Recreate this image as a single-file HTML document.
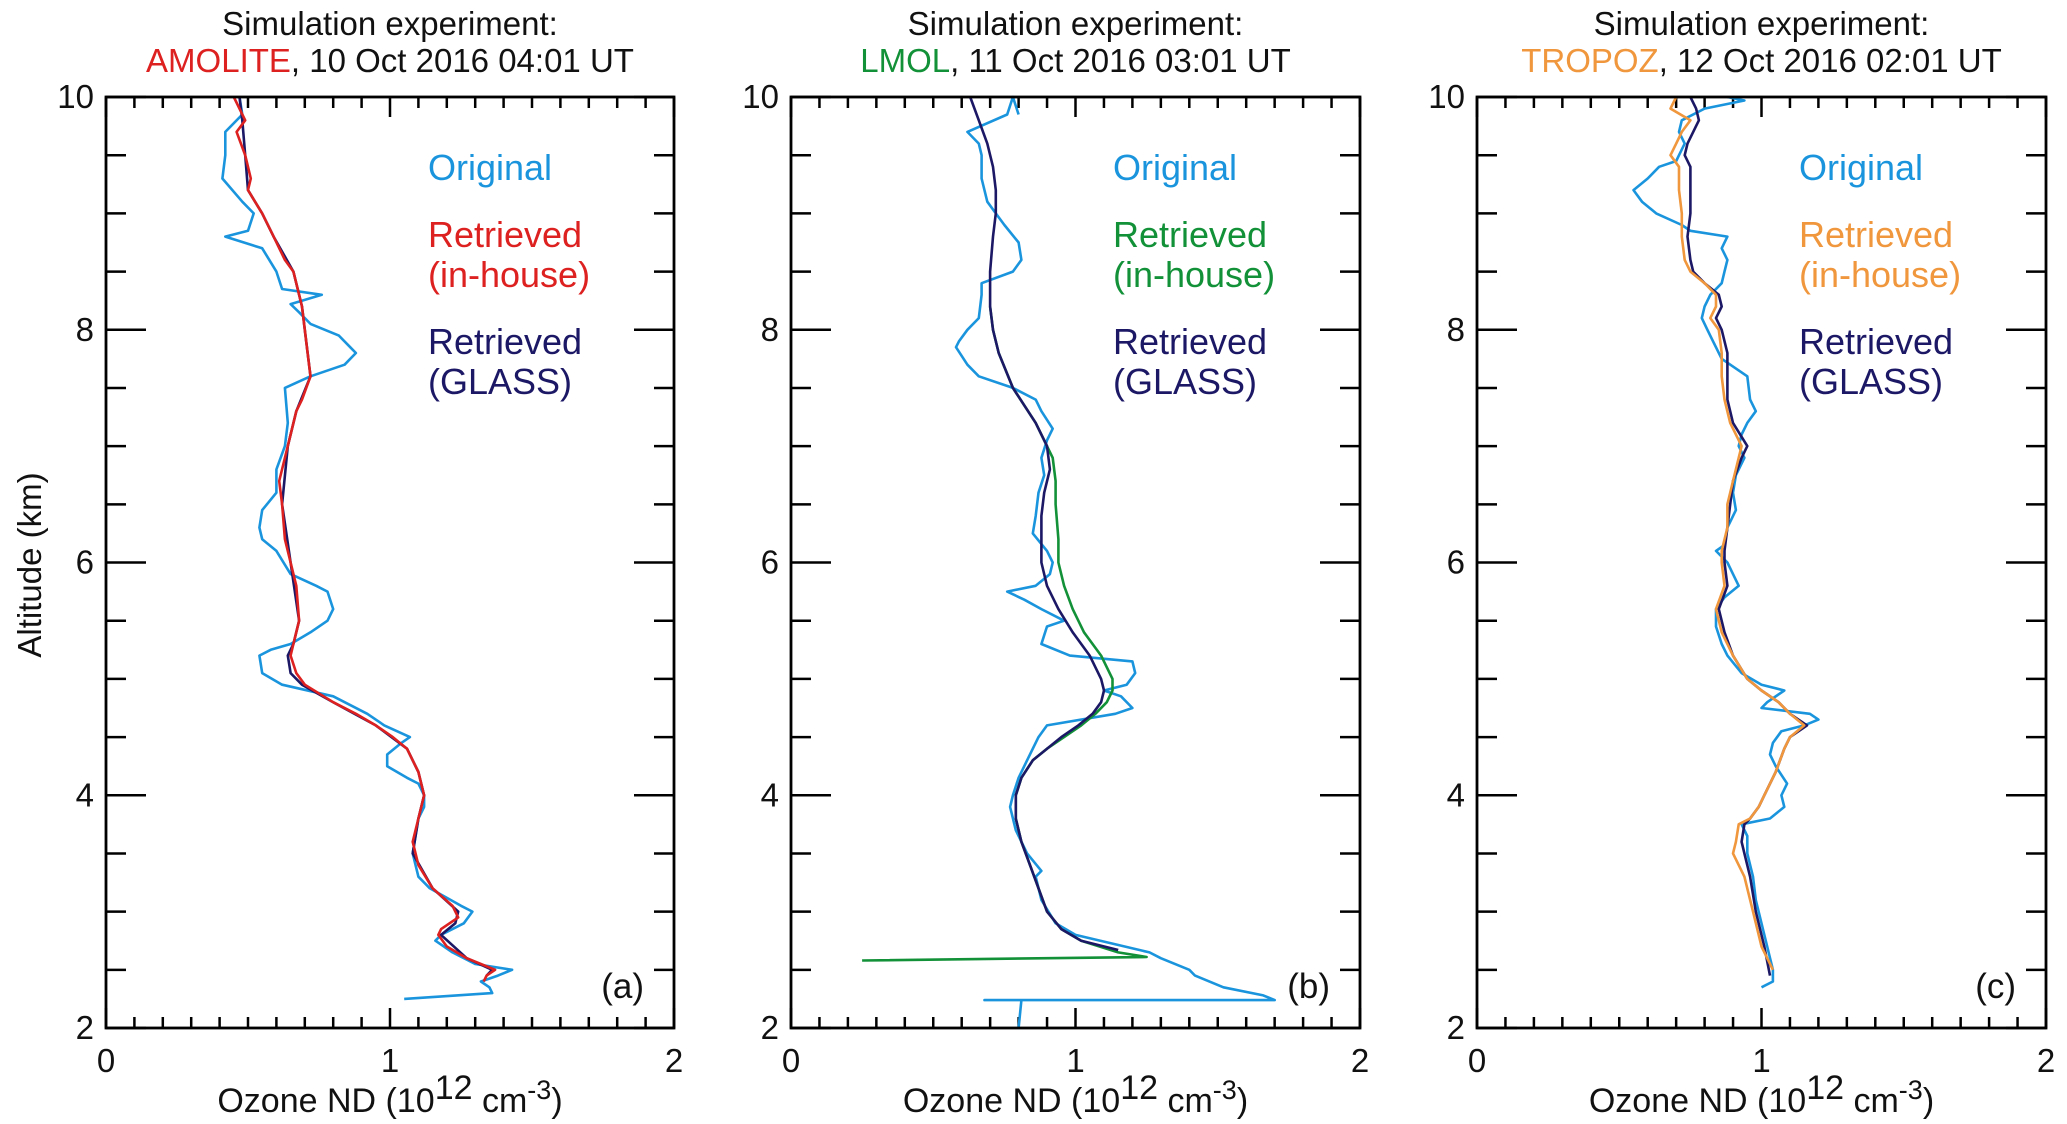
<!DOCTYPE html>
<html><head><meta charset="utf-8"><style>
html,body{margin:0;padding:0;background:#fff;}
svg{display:block;font-family:"Liberation Sans",sans-serif;}
</style></head><body>
<svg id="chart" width="2067" height="1124" viewBox="0 0 2067 1124" xmlns="http://www.w3.org/2000/svg"></svg>
<script>
// ---- data (altitude km, ozone 1e12 cm^-3) ----
const xTicks = [0, 1, 2];
const yTicks = [2, 4, 6, 8, 10];
const panelLetters = ["(a)", "(b)", "(c)"];
const instruments = ["AMOLITE", "LMOL", "TROPOZ"];
const dates = [", 10 Oct 2016 04:01 UT", ", 11 Oct 2016 03:01 UT", ", 12 Oct 2016 02:01 UT"];

const aOrigAlt = [10,9.85,9.7,9.5,9.3,9.1,9.0,8.85,8.8,8.7,8.5,8.35,8.3,8.22,8.15,8.05,7.95,7.85,7.8,7.7,7.6,7.5,7.2,7.0,6.8,6.6,6.45,6.3,6.2,6.1,5.9,5.8,5.75,5.6,5.5,5.4,5.3,5.25,5.2,5.05,4.95,4.85,4.7,4.6,4.5,4.45,4.35,4.25,4.15,4.1,4.0,3.9,3.8,3.5,3.3,3.2,3.05,3.0,2.9,2.8,2.75,2.65,2.55,2.5,2.45,2.4,2.35,2.3,2.25];
const aOrigVal = [0.47,0.48,0.42,0.42,0.41,0.48,0.52,0.5,0.42,0.55,0.6,0.62,0.76,0.65,0.68,0.72,0.82,0.86,0.88,0.84,0.72,0.63,0.64,0.63,0.6,0.6,0.55,0.54,0.55,0.6,0.65,0.74,0.78,0.8,0.78,0.72,0.65,0.58,0.54,0.55,0.62,0.8,0.92,0.98,1.07,1.04,0.99,0.99,1.06,1.1,1.12,1.12,1.1,1.08,1.1,1.14,1.25,1.29,1.26,1.18,1.16,1.22,1.3,1.43,1.38,1.32,1.35,1.36,1.05];
const aRetAlt = [10,9.8,9.7,9.5,9.3,9.2,9.0,8.8,8.6,8.5,8.2,8.0,7.8,7.6,7.4,7.3,7.0,6.7,6.5,6.2,6.0,5.8,5.5,5.3,5.2,5.05,4.95,4.8,4.7,4.6,4.5,4.4,4.2,4.0,3.8,3.6,3.4,3.2,3.05,2.95,2.85,2.8,2.7,2.6,2.55,2.5,2.45,2.4];
const aRetVal = [0.45,0.49,0.46,0.49,0.51,0.5,0.55,0.59,0.63,0.66,0.69,0.7,0.71,0.72,0.69,0.67,0.64,0.61,0.62,0.63,0.65,0.67,0.68,0.66,0.65,0.67,0.7,0.8,0.88,0.95,1.01,1.06,1.1,1.12,1.1,1.08,1.1,1.15,1.22,1.24,1.18,1.17,1.2,1.27,1.32,1.37,1.34,1.33];
const aGlsAlt = [10,9.8,9.5,9.2,9.0,8.8,8.5,8.2,8.0,7.6,7.3,7.0,6.5,6.0,5.5,5.3,5.2,5.05,4.95,4.8,4.6,4.4,4.2,4.0,3.8,3.5,3.2,3.0,2.9,2.8,2.6,2.5,2.45];
const aGlsVal = [0.47,0.48,0.49,0.5,0.55,0.59,0.66,0.69,0.7,0.72,0.67,0.64,0.62,0.65,0.68,0.66,0.64,0.65,0.69,0.8,0.95,1.06,1.1,1.12,1.1,1.08,1.15,1.24,1.23,1.18,1.27,1.36,1.34];

const bOrigAlt = [9.85,10,9.85,9.7,9.6,9.5,9.3,9.1,9.0,8.9,8.75,8.6,8.5,8.4,8.3,8.1,8.0,7.9,7.85,7.7,7.6,7.5,7.4,7.3,7.15,7.05,6.9,6.75,6.6,6.4,6.25,6.1,6.0,5.9,5.8,5.75,5.68,5.6,5.5,5.45,5.3,5.2,5.15,5.05,4.95,4.9,4.85,4.75,4.7,4.6,4.5,4.3,4.15,4.0,3.9,3.7,3.5,3.35,3.3,3.1,2.9,2.8,2.65,2.6,2.5,2.45,2.35,2.28,2.24,2.24,2.24,2.0];
const bOrigVal = [0.8,0.78,0.76,0.62,0.66,0.67,0.67,0.69,0.72,0.75,0.8,0.81,0.78,0.67,0.67,0.66,0.62,0.59,0.58,0.62,0.66,0.78,0.86,0.88,0.92,0.9,0.88,0.89,0.87,0.86,0.85,0.9,0.92,0.91,0.86,0.76,0.82,0.88,0.96,0.9,0.88,0.98,1.2,1.21,1.18,1.1,1.16,1.2,1.14,0.9,0.87,0.83,0.8,0.78,0.77,0.79,0.83,0.88,0.86,0.88,0.93,1.0,1.26,1.3,1.4,1.42,1.52,1.66,1.7,0.68,0.81,0.8];
const bRetAlt = [8.2,8.0,7.8,7.5,7.2,6.9,6.7,6.5,6.2,6.0,5.8,5.6,5.4,5.2,5.0,4.9,4.8,4.7,4.6,4.5,4.4,4.3,4.15,4.0,3.8,3.6,3.4,3.2,3.0,2.85,2.75,2.65,2.61,2.58];
const bRetVal = [0.7,0.71,0.73,0.78,0.86,0.92,0.93,0.93,0.94,0.94,0.96,0.99,1.03,1.09,1.13,1.13,1.11,1.07,1.02,0.96,0.9,0.85,0.81,0.79,0.79,0.81,0.84,0.87,0.9,0.95,1.02,1.15,1.25,0.25];
const bGlsAlt = [10,9.8,9.6,9.4,9.2,9.0,8.8,8.5,8.2,8.0,7.8,7.5,7.2,7.0,6.8,6.6,6.4,6.2,6.0,5.8,5.6,5.4,5.2,5.0,4.9,4.8,4.7,4.6,4.5,4.4,4.3,4.15,4.0,3.8,3.6,3.4,3.2,3.0,2.85,2.75,2.67];
const bGlsVal = [0.63,0.66,0.69,0.71,0.72,0.72,0.71,0.7,0.7,0.71,0.73,0.78,0.86,0.9,0.91,0.89,0.88,0.88,0.88,0.9,0.94,0.99,1.05,1.09,1.1,1.09,1.06,1.01,0.95,0.9,0.85,0.81,0.79,0.79,0.81,0.84,0.87,0.9,0.95,1.02,1.15];

const cOrigAlt = [10,9.97,9.9,9.8,9.7,9.6,9.5,9.45,9.4,9.3,9.2,9.1,9.0,8.9,8.85,8.8,8.7,8.6,8.5,8.4,8.3,8.2,8.1,8.0,7.9,7.75,7.6,7.4,7.3,7.2,7.1,7.0,6.9,6.75,6.6,6.45,6.3,6.15,6.1,6.0,5.9,5.8,5.7,5.6,5.45,5.3,5.2,5.05,4.95,4.9,4.8,4.75,4.7,4.65,4.6,4.55,4.45,4.35,4.25,4.1,4.0,3.9,3.8,3.75,3.65,3.5,3.3,3.1,2.9,2.7,2.5,2.4,2.35];
const cOrigVal = [0.88,0.94,0.8,0.72,0.71,0.73,0.71,0.7,0.64,0.6,0.55,0.58,0.63,0.72,0.75,0.88,0.86,0.88,0.87,0.86,0.82,0.8,0.79,0.81,0.83,0.86,0.95,0.96,0.98,0.95,0.93,0.92,0.94,0.91,0.9,0.91,0.88,0.87,0.84,0.88,0.9,0.92,0.87,0.84,0.84,0.86,0.88,0.93,1.0,1.08,1.02,1.0,1.17,1.2,1.15,1.07,1.04,1.03,1.05,1.09,1.07,1.08,1.03,0.93,0.95,0.95,0.97,0.98,1.0,1.02,1.04,1.04,1.0];
const cRetAlt = [10,9.9,9.8,9.7,9.6,9.5,9.4,9.2,9.0,8.8,8.6,8.5,8.4,8.3,8.2,8.1,8.0,7.8,7.6,7.4,7.2,7.0,6.9,6.7,6.5,6.3,6.1,6.0,5.8,5.6,5.4,5.2,5.0,4.9,4.8,4.7,4.6,4.5,4.4,4.2,4.0,3.9,3.8,3.75,3.6,3.5,3.3,3.0,2.7,2.5];
const cRetVal = [0.7,0.68,0.75,0.72,0.7,0.68,0.71,0.71,0.72,0.72,0.73,0.75,0.8,0.84,0.84,0.82,0.85,0.86,0.86,0.87,0.89,0.93,0.92,0.9,0.88,0.88,0.86,0.86,0.87,0.84,0.86,0.9,0.95,1.0,1.06,1.1,1.15,1.1,1.08,1.05,1.01,0.99,0.96,0.92,0.91,0.9,0.94,0.97,1.0,1.04];
const cGlsAlt = [10,9.9,9.8,9.7,9.6,9.5,9.4,9.2,9.0,8.8,8.6,8.5,8.4,8.3,8.2,8.1,8.0,7.8,7.6,7.4,7.2,7.0,6.9,6.7,6.5,6.3,6.1,6.0,5.8,5.6,5.4,5.2,5.0,4.9,4.8,4.7,4.6,4.5,4.4,4.2,4.0,3.9,3.8,3.75,3.6,3.5,3.3,3.0,2.7,2.45];
const cGlsVal = [0.75,0.77,0.78,0.76,0.74,0.73,0.75,0.75,0.75,0.74,0.75,0.76,0.8,0.85,0.86,0.84,0.86,0.88,0.88,0.88,0.9,0.95,0.93,0.9,0.89,0.88,0.87,0.87,0.88,0.85,0.87,0.9,0.95,1.0,1.06,1.1,1.16,1.1,1.08,1.05,1.01,0.99,0.96,0.94,0.93,0.94,0.96,0.98,1.01,1.03];

const BLUE = "#1a95dd", NAVY = "#1c1866", RED = "#dd2020", GREEN = "#139138", ORANGE = "#f0963c";
const panels = [
  {x0:106, x1:674, color:RED, series:[[aOrigAlt,aOrigVal,BLUE,"original-profile-a"],[aGlsAlt,aGlsVal,NAVY,"glass-profile-a"],[aRetAlt,aRetVal,RED,"inhouse-profile-a"]]},
  {x0:791, x1:1360, color:GREEN, series:[[bOrigAlt,bOrigVal,BLUE,"original-profile-b"],[bRetAlt,bRetVal,GREEN,"inhouse-profile-b"],[bGlsAlt,bGlsVal,NAVY,"glass-profile-b"]]},
  {x0:1477, x1:2046, color:ORANGE, series:[[cOrigAlt,cOrigVal,BLUE,"original-profile-c"],[cGlsAlt,cGlsVal,NAVY,"glass-profile-c"],[cRetAlt,cRetVal,ORANGE,"inhouse-profile-c"]]}
];
const Y0 = 1028, Y1 = 97;
const NS = "http://www.w3.org/2000/svg";
const svg = document.getElementById("chart");
function mk(tag, attrs, parent, text){
  const e = document.createElementNS(NS, tag);
  for (const k in attrs) e.setAttribute(k, attrs[k]);
  if (text !== undefined) e.textContent = text;
  (parent||svg).appendChild(e); return e;
}
panels.forEach((p, i) => {
  const sx = v => p.x0 + (v - 0) / 2 * (p.x1 - p.x0);
  const sy = a => Y0 - (a - 2) / 8 * (Y0 - Y1);
  const g = mk("g", {});
  
  
  const cx = (p.x0 + p.x1) / 2;
  const t1 = mk("text", {x:cx, y:35, "text-anchor":"middle", "font-size":33, fill:"#111"}, g, "Simulation experiment:");
  
  
  const t2 = mk("text", {x:cx, y:72, "text-anchor":"middle", "font-size":33, fill:"#111"}, g);
  
  
  mk("tspan", {fill:p.color}, t2, instruments[i]);
  mk("tspan", {}, t2, dates[i]);
  for (let v = 0; v <= 2.0001; v += 0.1) {
    const major = Math.abs(v - Math.round(v)) < 1e-6;
    const L = major ? 20 : 11, x = sx(v);
    mk("line", {x1:x, x2:x, y1:Y0, y2:Y0 - L, stroke:"#000", "stroke-width":2.5}, g);
    mk("line", {x1:x, x2:x, y1:Y1, y2:Y1 + L, stroke:"#000", "stroke-width":2.5}, g);
  }
  for (let a = 2; a <= 10.0001; a += 0.5) {
    const major = Math.abs(a/2 - Math.round(a/2)) < 1e-6;
    const L = major ? 40 : 20, y = sy(a);
    mk("line", {x1:p.x0, x2:p.x0 + L, y1:y, y2:y, stroke:"#000", "stroke-width":2.5}, g);
    mk("line", {x1:p.x1, x2:p.x1 - L, y1:y, y2:y, stroke:"#000", "stroke-width":2.5}, g);
  }
  xTicks.forEach(v => {
    const t = mk("text", {x:sx(v), y:1072, "text-anchor":"middle", "font-size":33, fill:"#111"}, g, String(v));
    
    
  });
  yTicks.forEach(a => {
    const t = mk("text", {x:p.x0 - 12, y:sy(a) + 11, "text-anchor":"end", "font-size":33, fill:"#111"}, g, String(a));
    
    
  });
  const xl = mk("text", {x:cx, y:1112, "text-anchor":"middle", "font-size":34, fill:"#111"}, g);
  
  
  mk("tspan", {}, xl, "Ozone ND (10");
  mk("tspan", {dy:-13, "font-size":34}, xl, "12");
  mk("tspan", {dy:13}, xl, " cm");
  mk("tspan", {dy:-13, "font-size":27}, xl, "-3");
  mk("tspan", {dy:13}, xl, ")");
  p.series.forEach(s => {
    const [alt, val, col, name] = s;
    const pts = alt.map((a, k) => sx(val[k]).toFixed(1) + "," + sy(a).toFixed(1)).join(" ");
    const pl = mk("polyline", {points:pts, fill:"none", stroke:col, "stroke-width":2.6, "stroke-linejoin":"round"}, g);
    
    
  });
  const fr = mk("rect", {x:p.x0, y:Y1, width:p.x1 - p.x0, height:Y0 - Y1, fill:"none", stroke:"#000", "stroke-width":2.8}, g);
  
  
  const lx = p.x0 + 322;
  const legend = [["Original",168,BLUE],["Retrieved",235,p.color],["(in-house)",275,p.color],["Retrieved",342,NAVY],["(GLASS)",382,NAVY]];
  legend.forEach(l => {
    const t = mk("text", {x:lx, y:l[1] + 12, "font-size":36, fill:l[2]}, g, l[0]);
    
    
  });
  const pl = mk("text", {x:p.x1 - 30, y:998, "text-anchor":"end", "font-size":35, fill:"#111"}, g, panelLetters[i]);
  
  
});
const yl = mk("text", {x:0, y:0, transform:"translate(41,565) rotate(-90)", "text-anchor":"middle", "font-size":33, fill:"#111"}, svg, "Altitude (km)");


</script>
</body></html>
